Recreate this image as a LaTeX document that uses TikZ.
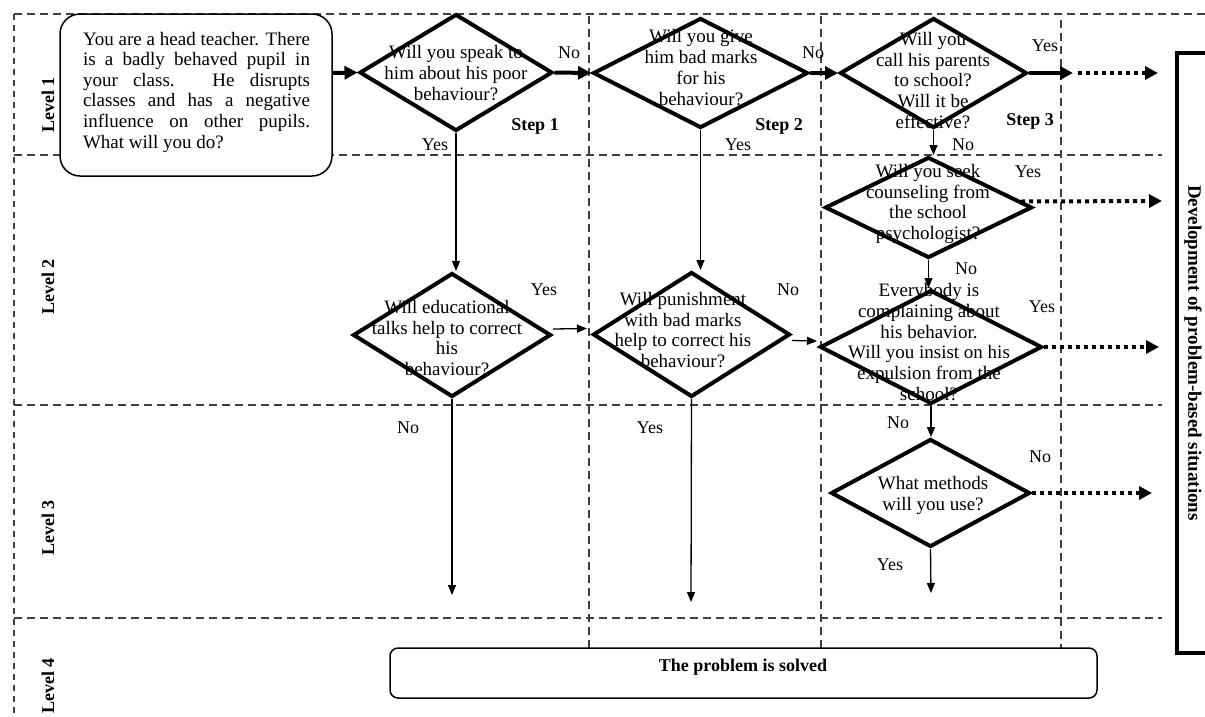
\documentclass[tikz,border=0pt]{standalone}
\usepackage{fontspec}
\setmainfont{Liberation Serif}
\usetikzlibrary{arrows.meta,shapes.geometric}
\begin{document}
\begin{tikzpicture}[x=1pt,y=-1pt,
 dia/.style={diamond, draw, line width=4pt, inner sep=0pt},
 qt/.style={align=center, inner sep=0pt, font=\fontsize{19}{20.8}\selectfont},
 lbl/.style={inner sep=0pt, font=\fontsize{18}{20}\selectfont},
 steplbl/.style={inner sep=0pt, font=\fontsize{18}{20}\selectfont\bfseries},
 lvl/.style={rotate=90, inner sep=0pt, font=\fontsize{18}{20}\selectfont\bfseries},
 gridline/.style={line width=1.3pt, draw=black!75, dash pattern=on 8pt off 5pt},
 thickarr/.style={line width=4pt, -{Triangle[length=13pt,width=13pt]}},
 thinarr/.style={line width=1.3pt, -{Triangle[length=10pt,width=8pt]}},
 dotarr/.style={line width=4pt, dash pattern=on 4pt off 4pt, -{Triangle[length=13pt,width=13pt]}},
]
\useasboundingbox (0,0) rectangle (1205,716);

% grid
\draw[gridline] (14,14) -- (1205,14);
\draw[gridline] (14,155) -- (1162,155);
\draw[gridline] (14,405) -- (1162,405);
\draw[gridline] (14,618) -- (1162,618);
\draw[gridline, dash pattern=on 6pt off 5pt] (14,14) -- (14,716);
\draw[gridline] (589,16) -- (589,648);
\draw[gridline] (821,16) -- (821,648);
\draw[gridline] (1061,20) -- (1061,648);

% level labels
\node[lvl] (lv1) at (48,105) {Level 1};
\node[lvl] (lv2) at (48,287) {Level 2};
\node[lvl] (lv3) at (48,528) {Level 3};
\node[lvl] (lv4) at (48,686) {Level 4};

% right bracket box
\draw[line width=3.2pt] (1205,53) -- (1177,53) -- (1177,653) -- (1205,653);
\node[rotate=-90, inner sep=0pt, font=\fontsize{19}{21}\selectfont\bfseries] (dev) at (1193,353) {Development of problem-based situations};

% start box
\node[draw, rounded corners=20pt, line width=1.5pt, minimum width=272pt, minimum height=162pt, inner sep=0pt, fill=white] (start) at (196,95) {};
\node[align=left, inner sep=0pt, font=\fontsize{19}{20.6}\selectfont] (starttxt) at (196.5,92) {%
\makebox[227pt][s]{You are a head teacher. There}\\
\makebox[227pt][s]{is a badly behaved pupil in}\\
\makebox[227pt][s]{your class. He disrupts}\\
\makebox[227pt][s]{classes and has a negative}\\
\makebox[227pt][s]{influence on other pupils.}\\
What will you do?};

% diamonds
\node[dia, minimum width=193pt, minimum height=117pt] (d1) at (456,72.5) {};
\node[dia, minimum width=215pt, minimum height=110pt] (d2) at (700.5,73) {};
\node[dia, minimum width=187pt, minimum height=110pt] (d3) at (933.5,73) {};
\node[dia, minimum width=207pt, minimum height=101pt] (d4) at (928.5,207.5) {};
\node[dia, minimum width=222pt, minimum height=114pt] (d5) at (931,347) {};
\node[dia, minimum width=199pt, minimum height=108pt] (d6) at (930.5,493) {};
\node[dia, minimum width=198pt, minimum height=124pt] (d7) at (452,335) {};
\node[dia, minimum width=197pt, minimum height=125pt] (d8) at (691.5,334.5) {};

\node[qt] (t1) at (456,73) {Will you speak to\\him about his poor\\behaviour?};
\node[qt] (t2) at (701,67.5) {Will you give\\him bad marks\\for his\\behaviour?};
\node[qt] (t3) at (933,80.5) {Will you\\call his parents\\to school?\\Will it be\\effective?};
\node[qt] (t4) at (928,204) {Will you seek\\counseling from\\the school\\psychologist?};
\node[qt] (t5) at (929,342) {Everybody is\\complaining about\\his behavior.\\Will you insist on his\\expulsion from the\\school?};
\node[qt] (t6) at (933,495.5) {What methods\\will you use?};
\node[qt] (t7) at (447,338) {Will educational\\talks help to correct\\his\\behaviour?};
\node[qt] (t8) at (683,330) {Will punishment\\with bad marks\\help to correct his\\behaviour?};

% bottom box
\node[draw, rounded corners=8pt, line width=1.5pt, minimum width=707pt, minimum height=50pt, inner sep=0pt, fill=white] (solved) at (743.5,673) {};
\node[inner sep=0pt, font=\fontsize{18}{20}\selectfont\bfseries] (solvedtxt) at (743,667) {The problem is solved};

% coordinates for free ends
\coordinate (e3a) at (1073,73);
\coordinate (e3b) at (1078,73);
\coordinate (e3c) at (1158,73);
\coordinate (e4) at (1162,201);
\coordinate (e5) at (1159,347);
\coordinate (e6) at (1152,493);
\coordinate (end6) at (931,593);
\coordinate (end7) at (452,595);
\coordinate (end8) at (691,602);

% thick arrows
\draw[thickarr] ([yshift=22pt]start.east) -- (d1.west);
\draw[thickarr] (d1.east) -- (d2.west);
\draw[thickarr] (d2.east) -- (d3.west);
\draw[thickarr] (d3.east) -- (e3a);
\draw[dotarr] (e3b) -- (e3c);
\draw[dotarr] ([xshift=-13pt,yshift=6pt]d4.east) -- (e4);
\draw[dotarr] (d5.east) -- (e5);
\draw[dotarr] (d6.east) -- (e6);

% thin arrows
\draw[thinarr] (d1.south) -- (d1.south |- d7.north);
\draw[thinarr] (d2.south) -- (d2.south |- d8.north);
\draw[thinarr] (d3.south) -- (d3.south |- d4.north);
\draw[thinarr] (d4.south) -- (d4.south |- d5.north);
\draw[thinarr] (d5.south) -- (d5.south |- d6.north);
\draw[thinarr] (d6.south) -- (end6);
\draw[thinarr] (d7.south) -- (end7);
\draw[thinarr] (d8.south) -- (end8);
\draw[thinarr] ([yshift=6pt]d7.east) -- ([xshift=-4pt,yshift=6pt]d8.west);
\draw[thinarr] ([yshift=-6pt]d8.east) -- ([xshift=-1pt,yshift=6pt]d5.west);

% labels
\node[lbl] (n12) at (569,53) {No};
\node[lbl] (n23) at (813,53) {No};
\node[lbl] (y3) at (1045,46) {Yes};
\node[steplbl] (s1) at (535,126) {Step 1};
\node[steplbl] (s2) at (779,126) {Step 2};
\node[steplbl] (s3) at (1030,121) {Step 3};
\node[lbl] (y1) at (435,145) {Yes};
\node[lbl] (y2) at (738,145) {Yes};
\node[lbl] (n34) at (963,145) {No};
\node[lbl] (y4) at (1028,172) {Yes};
\node[lbl] (n45) at (966,269) {No};
\node[lbl] (y5) at (1042,307) {Yes};
\node[lbl] (n56) at (898,423) {No};
\node[lbl] (n6) at (1040,457) {No};
\node[lbl] (y6) at (890,565) {Yes};
\node[lbl] (y7) at (544,290) {Yes};
\node[lbl] (n8) at (788,290) {No};
\node[lbl] (n7) at (408,428) {No};
\node[lbl] (y8) at (650,428) {Yes};
\end{tikzpicture}
\end{document}
